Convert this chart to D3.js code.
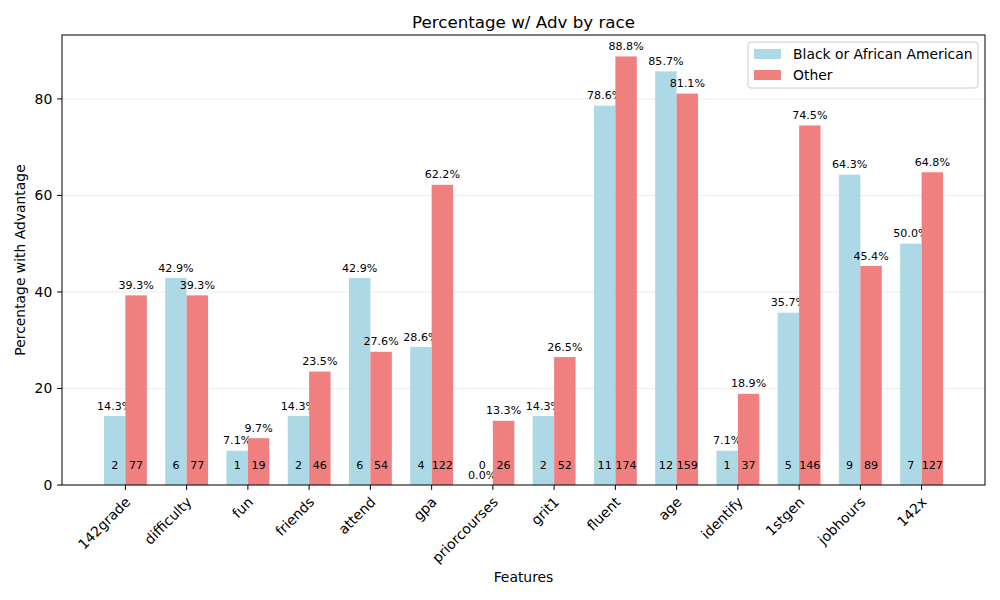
<!DOCTYPE html>
<html lang="en">
  <head>
    <meta charset="utf-8">
    <title>Percentage w/ Adv by race</title>
    <script src="https://d3js.org/d3.v7.min.js"></script>
    <style>
      body { margin: 0; background: #fff; }
      text { font-family: "DejaVu Sans", sans-serif; }
    </style>
  </head>
  <body>
    <svg id="chart" width="1000" height="600"></svg>
    <script type="text/javascript">
      var features = ["142grade", "difficulty", "fun", "friends", "attend", "gpa", "priorcourses",
                      "grit1", "fluent", "age", "identify", "1stgen", "jobhours", "142x"];
      var blackPct = [14.3, 42.9, 7.1, 14.3, 42.9, 28.6, 0.0, 14.3, 78.6, 85.7, 7.1, 35.7, 64.3, 50.0];
      var otherPct = [39.3, 39.3, 9.7, 23.5, 27.6, 62.2, 13.3, 26.5, 88.8, 81.1, 18.9, 74.5, 45.4, 64.8];
      var blackCount = [2, 6, 1, 2, 6, 4, 0, 2, 11, 12, 1, 5, 9, 7];
      var otherCount = [77, 77, 19, 46, 54, 122, 26, 52, 174, 159, 37, 146, 89, 127];
      var seriesNames = ["Black or African American", "Other"];
      var yTicks = [0, 20, 40, 60, 80];

      var colors = ["#add8e6", "#f08080"];
      var pLeft = 62, pRight = 985, pTop = 35, pBottom = 485;
      var barW = 0.35;
      var fsTick = "13.9px", fsSmall = "11.1px", fsTitle = "16.7px";

      var svg = d3.select("svg#chart");

      var xScale = d3.scaleLinear()
                     .domain([-barW - 0.685, features.length - 1 + barW + 0.685])
                     .range([pLeft, pRight]);
      var yScale = d3.scaleLinear()
                     .domain([0, d3.max(otherPct.concat(blackPct)) * 1.05])
                     .range([pBottom, pTop]);

      // grid
      svg.append("g").selectAll("line").data(yTicks).enter().append("line")
         .attr("x1", pLeft).attr("x2", pRight)
         .attr("y1", d => yScale(d)).attr("y2", d => yScale(d))
         .attr("stroke", "#b0b0b0").attr("stroke-opacity", 0.3).attr("stroke-width", 0.8);

      var rows = features.map((f, i) => ({
        f: f, i: i,
        vals: [blackPct[i], otherPct[i]],
        counts: [blackCount[i], otherCount[i]]
      }));

      var groups = svg.append("g").selectAll("g").data(rows).enter().append("g");
      [0, 1].forEach(function (s) {
        var off = s === 0 ? -barW : 0;
        groups.append("rect")
          .attr("x", d => xScale(d.i + off))
          .attr("width", d => xScale(d.i + off + barW) - xScale(d.i + off))
          .attr("y", d => yScale(d.vals[s]))
          .attr("height", d => pBottom - yScale(d.vals[s]))
          .attr("fill", colors[s]);
        groups.append("text")
          .attr("x", d => xScale(d.i + off + barW / 2))
          .attr("y", d => yScale(d.vals[s] + 1) - 1.5)
          .attr("text-anchor", "middle")
          .style("font-size", fsSmall)
          .text(d => d.vals[s].toFixed(1) + "%");
        groups.append("text")
          .attr("x", d => xScale(d.i + off + barW / 2))
          .attr("y", yScale(3.3))
          .attr("text-anchor", "middle")
          .style("font-size", fsSmall)
          .text(d => d.counts[s]);
      });

      // frame
      svg.append("rect").attr("x", pLeft).attr("y", pTop)
         .attr("width", pRight - pLeft).attr("height", pBottom - pTop)
         .attr("fill", "none").attr("stroke", "#000").attr("stroke-width", 1);

      // x ticks
      var xt = svg.append("g").selectAll("g").data(features).enter().append("g");
      xt.append("line")
        .attr("x1", (d, i) => xScale(i)).attr("x2", (d, i) => xScale(i))
        .attr("y1", pBottom).attr("y2", pBottom + 4.9).attr("stroke", "#000");
      xt.append("text")
        .attr("transform", (d, i) => "translate(" + (xScale(i) + 6) + "," + (pBottom + 18) + ") rotate(-45)")
        .attr("text-anchor", "end")
        .style("font-size", fsTick)
        .text(d => d);

      // y ticks
      var yt = svg.append("g").selectAll("g").data(yTicks).enter().append("g");
      yt.append("line")
        .attr("x1", pLeft - 4.9).attr("x2", pLeft)
        .attr("y1", d => yScale(d)).attr("y2", d => yScale(d)).attr("stroke", "#000");
      yt.append("text")
        .attr("x", pLeft - 9.7).attr("y", d => yScale(d))
        .attr("dy", "0.35em").attr("text-anchor", "end")
        .style("font-size", fsTick)
        .text(d => d);

      // labels
      svg.append("text").attr("x", (pLeft + pRight) / 2).attr("y", 27.5)
         .attr("text-anchor", "middle").style("font-size", fsTitle)
         .text("Percentage w/ Adv by race");
      svg.append("text").attr("x", (pLeft + pRight) / 2).attr("y", 582)
         .attr("text-anchor", "middle").style("font-size", fsTick)
         .text("Features");
      svg.append("text").attr("transform", "translate(25," + ((pTop + pBottom) / 2) + ") rotate(-90)")
         .attr("text-anchor", "middle").style("font-size", fsTick)
         .text("Percentage with Advantage");

      // legend
      var lg = svg.append("g").attr("transform", "translate(748,42)");
      lg.append("rect").attr("width", 230).attr("height", 46).attr("rx", 3)
        .attr("fill", "#fff").attr("fill-opacity", 0.8)
        .attr("stroke", "#cccccc").attr("stroke-width", 1);
      seriesNames.forEach(function (n, i) {
        lg.append("rect").attr("x", 6).attr("y", 7 + i * 21).attr("width", 27).attr("height", 10)
          .attr("fill", colors[i]);
        lg.append("text").attr("x", 45).attr("y", 12 + i * 21).attr("dy", "0.35em")
          .style("font-size", fsTick).text(n);
      });
    </script>
  </body>
</html>
